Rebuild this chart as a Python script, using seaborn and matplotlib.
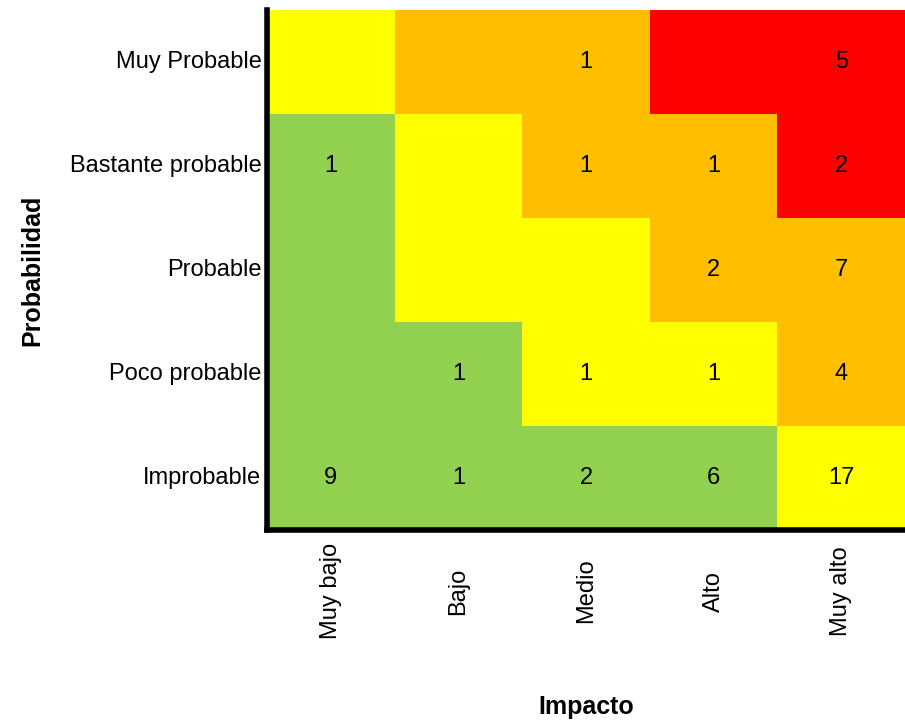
import numpy as np
import pandas as pd
import matplotlib
matplotlib.use('Agg')
import matplotlib.pyplot as plt
from matplotlib.colors import ListedColormap
import seaborn as sns

sns.set_style('white')
plt.rcParams['font.family'] = ['Liberation Sans Narrow', 'Liberation Sans', 'DejaVu Sans']
plt.rcParams['text.color'] = 'black'
plt.rcParams['axes.labelcolor'] = 'black'
plt.rcParams['xtick.color'] = 'black'
plt.rcParams['ytick.color'] = 'black'

probabilidad = ['Muy Probable', 'Bastante probable', 'Probable', 'Poco probable', 'Improbable']
impacto = ['Muy bajo', 'Bajo', 'Medio', 'Alto', 'Muy alto']

# nivel de riesgo: 0 verde, 1 amarillo, 2 naranja, 3 rojo
nivel = [
    [1, 2, 2, 3, 3],
    [0, 1, 2, 2, 3],
    [0, 1, 1, 2, 2],
    [0, 0, 1, 1, 2],
    [0, 0, 0, 0, 1],
]
conteo = [
    [0, 0, 1, 0, 5],
    [1, 0, 1, 1, 2],
    [0, 0, 0, 2, 7],
    [0, 1, 1, 1, 4],
    [9, 1, 2, 6, 17],
]
colores = ['#92D050', '#FFFF00', '#FFBF00', '#FF0000']

df_nivel = pd.DataFrame(nivel, index=probabilidad, columns=impacto)
etiquetas = np.array([[str(v) if v else '' for v in fila] for fila in conteo])

fig = plt.figure(figsize=(9.05, 7.27), dpi=100)
ax = fig.add_axes([0.295, 0.271, 0.705, 0.715])
sns.heatmap(df_nivel, cmap=ListedColormap(colores), vmin=-0.5, vmax=3.5, cbar=False,
            annot=etiquetas, fmt='', annot_kws={'fontsize': 17, 'color': 'black'}, ax=ax)

for s in ['left', 'bottom']:
    ax.spines[s].set_visible(True)
    ax.spines[s].set_linewidth(4)
    ax.spines[s].set_color('black')

ax.tick_params(axis='y', length=0, pad=4, labelsize=17, rotation=0)
ax.tick_params(axis='x', length=0, pad=44, labelsize=17, rotation=90)
for t in ax.get_xticklabels():
    t.set_va('center')

ax.set_xlabel('Impacto', fontsize=18, fontweight='bold', labelpad=40)
ax.set_ylabel('Probabilidad', fontsize=18, fontweight='bold', labelpad=18)

fig.savefig('out.png', dpi=100)
